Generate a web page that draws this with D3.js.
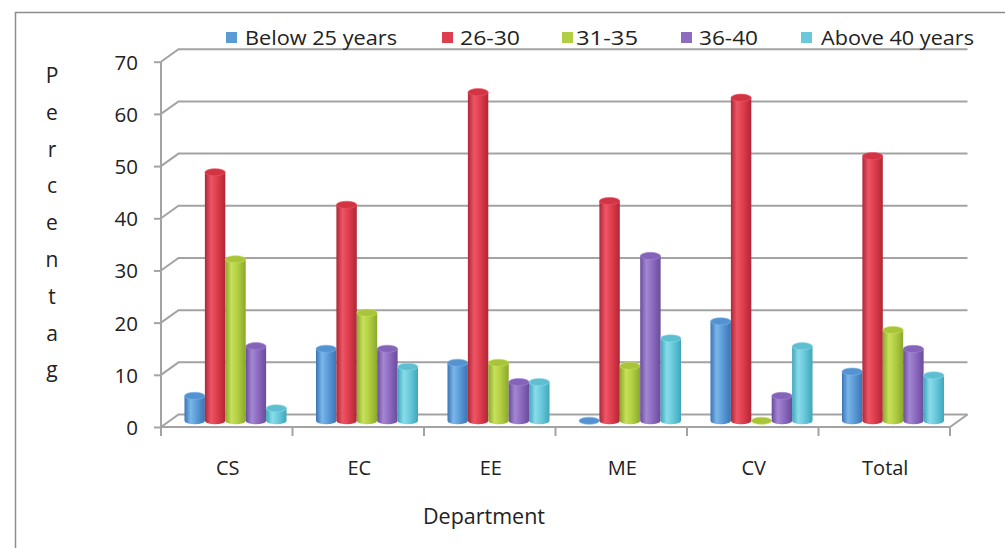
<!DOCTYPE html>
<html>
<head>
<meta charset="utf-8">
<script src="https://cdn.jsdelivr.net/npm/d3@7"></script>
<style>
  html, body { margin: 0; padding: 0; background: #fff; }
  svg { display: block; }
  text { font-family: "Open Sans", "Noto Sans", sans-serif; fill: #222; }
</style>
</head>
<body>
<svg id="chart" width="1005" height="548"></svg>
<script>
// Departments along the category axis
const categories = ["CS", "EC", "EE", "ME", "CV", "Total"];
// Age groups (legend order)
const seriesNames = ["Below 25 years", "26-30", "31-35", "36-40", "Above 40 years"];
// Percentage of staff in each age group, per department
const below25  = [4.76, 13.79, 11.11, 0, 19.05, 9.42];
const age26to30 = [47.62, 41.38, 62.96, 42.11, 61.90, 50.72];
const age31to35 = [30.95, 20.69, 11.11, 10.53, 0, 17.39];
const age36to40 = [14.29, 13.79, 7.41, 31.58, 4.76, 13.77];
const above40  = [2.38, 10.34, 7.41, 15.79, 14.29, 8.70];
const yTicks = [0, 10, 20, 30, 40, 50, 60, 70];
const yTitle = "Percentag";
const xTitle = "Department";

const seriesValues = [below25, age26to30, age31to35, age36to40, above40];

const palette = [
  { base: "#5b9bd5", light: "#7ab6ea", dark: "#3a74b5", top: "#5593d0" },
  { base: "#df3d4d", light: "#ec5666", dark: "#b02635", top: "#d23444" },
  { base: "#b2cf43", light: "#c8e05a", dark: "#8aa82a", top: "#a8c43a" },
  { base: "#8d6bc0", light: "#a487d3", dark: "#6a4b9c", top: "#8463b8" },
  { base: "#69c9da", light: "#89dcea", dark: "#3fa6bb", top: "#5fbfd1" }
];

const svg = d3.select("#chart");
const defs = svg.append("defs");

palette.forEach((c, i) => {
  const g = defs.append("linearGradient")
    .attr("id", "cyl" + i).attr("x1", "0").attr("x2", "1").attr("y1", "0").attr("y2", "0");
  g.append("stop").attr("offset", "0%").attr("stop-color", c.dark);
  g.append("stop").attr("offset", "30%").attr("stop-color", c.light);
  g.append("stop").attr("offset", "60%").attr("stop-color", c.base);
  g.append("stop").attr("offset", "100%").attr("stop-color", c.dark);
});

// Outer frame
svg.append("rect")
  .attr("x", 15.5).attr("y", 12.5).attr("width", 1010).attr("height", 560)
  .attr("fill", "none").attr("stroke", "#8c8c8c").attr("stroke-width", 1.5);

// Plot geometry: front plane of the 3D box plus a depth offset
const x0 = 161, x1 = 950;
const depthX = 17.5, depthY = -12.5;

const y = d3.scaleLinear().domain([0, 70]).range([427, 61.7]);
const x = d3.scaleBand().domain(categories).range([x0, x1]).padding(0);
const bw = x.bandwidth();
const inner = d3.scaleBand().domain(seriesNames)
  .range([bw * 0.112, bw * 0.888]).padding(0);

const gridColor = "#a3a3a3";

// Back wall gridlines with their side-wall diagonals
const grid = svg.append("g");
yTicks.forEach(t => {
  const yf = y(t);
  grid.append("path")
    .attr("d", `M${x0},${yf} L${x0 + depthX},${yf + depthY} L${x1 + depthX},${yf + depthY}`)
    .attr("fill", "none").attr("stroke", gridColor).attr("stroke-width", 2);
});

// Floor front edge and right side edge
grid.append("path")
  .attr("d", `M${x0},${y(0)} L${x1},${y(0)} L${x1 + depthX},${y(0) + depthY}`)
  .attr("fill", "none").attr("stroke", gridColor).attr("stroke-width", 2);

// Value axis
const yAxis = d3.axisLeft(y).tickValues(yTicks).tickSize(7).tickPadding(16);
const yAxisG = svg.append("g").attr("transform", `translate(${x0},0)`).call(yAxis);
yAxisG.select(".domain").attr("stroke", gridColor).attr("stroke-width", 2)
  .attr("d", `M0,${y(70)}V${y(0)}`);
yAxisG.selectAll(".tick line").attr("stroke", gridColor).attr("stroke-width", 2);
yAxisG.selectAll(".tick text")
  .style("font-family", "'Open Sans', sans-serif").style("font-size", "20.5px")
  .attr("fill", "#222").attr("dy", "0.36em");

// Category axis: boundary ticks below the floor, labels centred in each band
const catG = svg.append("g");
const bounds = categories.map(c => x(c)).concat([x1]);
catG.selectAll("line").data(bounds).join("line")
  .attr("x1", d => d).attr("x2", d => d)
  .attr("y1", y(0)).attr("y2", y(0) + 9)
  .attr("stroke", gridColor).attr("stroke-width", 2);
catG.selectAll("text").data(categories).join("text")
  .attr("x", d => x(d) + bw / 2 + 1)
  .attr("y", 475)
  .attr("text-anchor", "middle")
  .style("font-size", "20px")
  .text(d => d);

// Cylinders, placed at mid depth
const midX = depthX / 2, midY = depthY / 2;
const ry = 3.6;
const bars = svg.append("g");
categories.forEach((cat, ci) => {
  seriesNames.forEach((s, si) => {
    const v = seriesValues[si][ci];
    const left = x(cat) + inner(s) + midX;
    const w = inner.bandwidth();
    const rx = w / 2;
    const cx = left + rx;
    const yb = y(0) + midY;
    const yt = y(v) + midY;
    if (v > 0) {
      bars.append("path")
        .attr("d", `M${left},${yt} L${left},${yb} A${rx},${ry} 0 0 0 ${left + w},${yb} L${left + w},${yt} Z`)
        .attr("fill", `url(#cyl${si})`);
    }
    bars.append("ellipse")
      .attr("cx", cx).attr("cy", yt).attr("rx", rx).attr("ry", ry)
      .attr("fill", palette[si].top)
      .attr("stroke", palette[si].light).attr("stroke-width", 0.6);
  });
});

// Legend across the top
const legendItems = [
  { sq: 226, tx: 245, tl: 152 },
  { sq: 442, tx: 460, tl: 60 },
  { sq: 562, tx: 576, tl: 62 },
  { sq: 681, tx: 699, tl: 59 },
  { sq: 801, tx: 821, tl: 153 }
];
const legend = svg.append("g");
seriesNames.forEach((s, i) => {
  const it = legendItems[i];
  legend.append("rect")
    .attr("x", it.sq).attr("y", 32).attr("width", 11).attr("height", 11)
    .attr("fill", palette[i].base);
  legend.append("text")
    .attr("x", it.tx).attr("y", 45)
    .attr("textLength", it.tl).attr("lengthAdjust", "spacingAndGlyphs")
    .style("font-size", "19.5px")
    .text(s);
});

// Vertical axis title: letters stacked one per line
svg.append("g").selectAll("text").data(yTitle.split("")).join("text")
  .attr("x", 52)
  .attr("y", (d, i) => 83 + i * 36.8)
  .attr("text-anchor", "middle")
  .style("font-size", "21px")
  .text(d => d);

// Category axis title
svg.append("text")
  .attr("x", 484).attr("y", 524)
  .attr("text-anchor", "middle")
  .style("font-size", "21.5px")
  .text(xTitle);
</script>
</body>
</html>
